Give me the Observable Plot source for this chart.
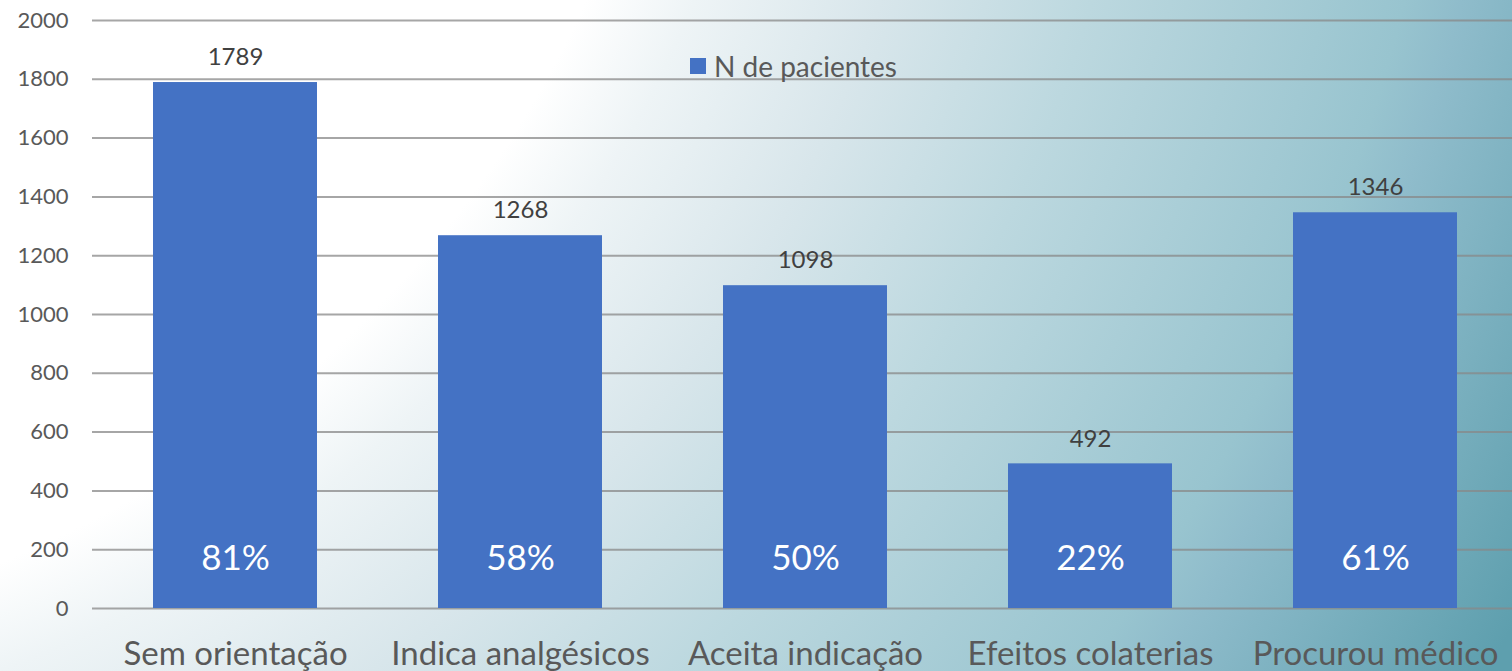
<!DOCTYPE html>
<html>
<head>
<meta charset="utf-8">
<script src="https://cdn.jsdelivr.net/npm/d3@7"></script>
<script src="https://cdn.jsdelivr.net/npm/@observablehq/plot@0.6"></script>
<style>
  html, body { margin: 0; padding: 0; overflow: hidden; }
  #wrap {
    position: relative; width: 1512px; height: 671px; overflow: hidden;
    background: radial-gradient(circle at -415px -456px, #ffffff 0px, #ffffff 1100px, #eef4f6 1200px, #d8e6eb 1374px, #bcd8df 1575px, #98c4cf 1876px, #8fbccb 1932px, #5e9fae 2211px);
    font-family: Lato, "Open Sans", sans-serif;
  }
  #legend {
    position: absolute; left: 690px; top: 49px; font-size: 28px; color: #595959;
    display: flex; align-items: center; gap: 8px;
  }
  #legend .sw { width: 16px; height: 16px; background: #4472c4; display: inline-block; }
</style>
</head>
<body>
<div id="wrap">
  <div id="chart"></div>
  <div id="legend"><span class="sw"></span><span>N de pacientes</span></div>
</div>
<script>
const categories = ["Sem orientação", "Indica analgésicos", "Aceita indicação", "Efeitos colaterias", "Procurou médico"];
const patients = [1789, 1268, 1098, 492, 1346];
const percents = ["81%", "58%", "50%", "22%", "61%"];
const yTicks = [0, 200, 400, 600, 800, 1000, 1200, 1400, 1600, 1800, 2000];

const data = categories.map((c, i) => ({category: c, value: patients[i], pct: percents[i]}));

const chart = Plot.plot({
  width: 1512,
  height: 671,
  marginLeft: 92,
  marginRight: 0,
  marginTop: 20,
  marginBottom: 63,
  style: {background: "transparent", fontFamily: "Lato, 'Open Sans', sans-serif", overflow: "visible"},
  x: {domain: categories, range: [92, 1517], paddingInner: 0.425, paddingOuter: 0.2125, label: null},
  y: {domain: [0, 2000], label: null},
  marks: [
    Plot.ruleY(yTicks, {stroke: "#888", strokeOpacity: 0.75, strokeWidth: 2}),
    Plot.barY(data, {x: "category", y: "value", fill: "#4472c4", inset: 0}),
    Plot.text(data, {x: "category", y: "value", text: d => String(d.value), dy: -25, fill: "#404040", fontSize: 24}),
    Plot.text(data, {x: "category", y: () => 170, text: "pct", fill: "white", fontSize: 35}),
    Plot.axisY({ticks: yTicks, tickSize: 0, tickPadding: 24, fontSize: 22, color: "#595959", tickFormat: d => String(d)}),
    Plot.axisX({tickSize: 0, tickPadding: 33, fontSize: 33, color: "#595959"})
  ]
});
document.getElementById("chart").appendChild(chart);
</script>
</body>
</html>
